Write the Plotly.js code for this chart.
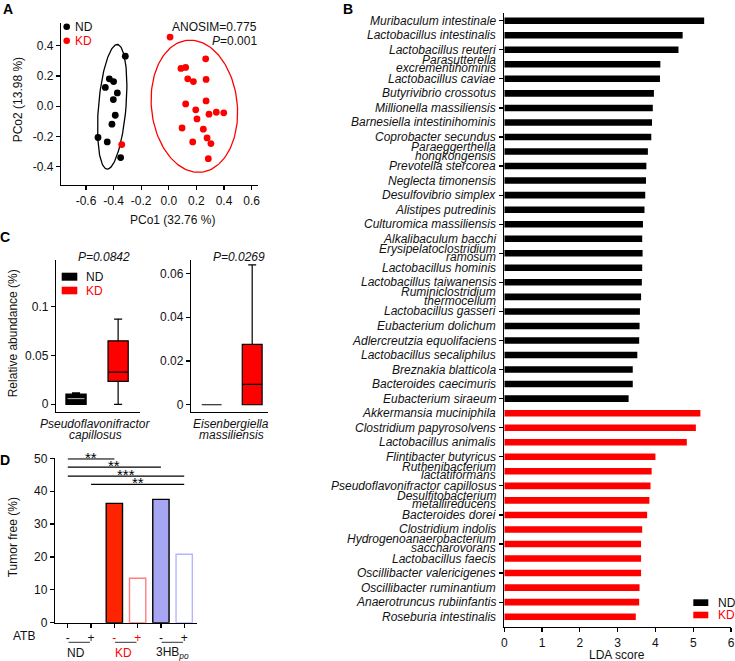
<!DOCTYPE html>
<html><head><meta charset="utf-8">
<script src="https://cdn.plot.ly/plotly-3.0.1.min.js"></script>
<style>html,body{margin:0;padding:0;background:#fff}</style>
</head><body><div id="chart" style="width:735px;height:661px"></div>
<script>
// ---------- Panel A: PCoA ----------
const ndPco1 = [-0.315,-0.431,-0.40,-0.46,-0.373,-0.402,-0.388,-0.412,-0.513,-0.446,-0.349];
const ndPco2 = [0.331,0.181,0.163,0.124,0.088,0.044,-0.06,-0.119,-0.207,-0.236,-0.34];
const kdPco1 = [0.009,0.267,0.088,0.122,0.137,0.178,0.27,0.122,0.27,0.195,0.344,0.398,0.291,0.204,0.096,0.25,0.277,0.173,0.305,0.286,-0.341];
const kdPco2 = [0.457,0.313,0.25,0.256,0.181,0.163,0.177,0.015,0.035,-0.024,-0.04,-0.044,-0.053,-0.084,-0.144,-0.152,-0.21,-0.236,-0.247,-0.347,-0.254];
const ndEllipse = {cx:-0.41, cy:-0.004, rx:0.10, ry:0.412, shear:0.036};
const kdEllipse = {cx:0.185, cy:0.0, rx:0.312, ry:0.437, shear:-0.03};
const pcoXTicks = [-0.6,-0.4,-0.2,0,0.2,0.4,0.6];
const pcoXTickText = ['-0.6','-0.4','-0.2','0.0','0.2','0.4','0.6'];
const pcoYTicks = [-0.4,-0.2,0,0.2,0.4];
const pcoYTickText = ['-0.4','-0.2','0.0','0.2','0.4'];

// ---------- Panel B: LEfSe LDA ----------
const ndSpecies = ["Muribaculum intestinale","Lactobacillus intestinalis","Lactobacillus reuteri","Parasutterella<br>excrementihominis","Lactobacillus caviae","Butyrivibrio crossotus","Millionella massiliensis","Barnesiella intestinihominis","Coprobacter secundus","Paraeggerthella<br>hongkongensis","Prevotella stercorea","Neglecta timonensis","Desulfovibrio simplex","Alistipes putredinis","Culturomica massiliensis","Alkalibaculum bacchi","Erysipelatoclostridium<br>ramosum","Lactobacillus hominis","Lactobacillus taiwanensis","Ruminiclostridium<br>thermocellum","Lactobacillus gasseri","Eubacterium dolichum","Adlercreutzia equolifaciens","Lactobacillus secaliphilus","Breznakia blatticola","Bacteroides caecimuris","Eubacterium siraeum"];
const ndLda = [5.29,4.72,4.61,4.13,4.12,3.96,3.93,3.91,3.89,3.80,3.76,3.75,3.73,3.71,3.67,3.65,3.66,3.65,3.64,3.62,3.59,3.58,3.57,3.52,3.40,3.40,3.29];
const kdSpecies = ["Akkermansia muciniphila","Clostridium papyrosolvens","Lactobacillus animalis","Flintibacter butyricus","Ruthenibacterium<br>lactatiformans","Pseudoflavonifractor capillosus","Desulfitobacterium<br>metallireducens","Bacteroides dorei","Clostridium indolis","Hydrogenoanaerobacterium<br>saccharovorans","Lactobacillus faecis","Oscillibacter valericigenes","Oscillibacter ruminantium","Anaerotruncus rubiinfantis","Roseburia intestinalis"];
const kdLda = [5.19,5.07,4.83,4.00,3.90,3.87,3.84,3.78,3.65,3.62,3.62,3.62,3.58,3.57,3.48];
const ldaTicks = [0,1,2,3,4,5,6];

// ---------- Panel C: boxplots (precomputed stats) ----------
const boxGroups = ['ND','KD'];
const pseudoQ1 = [0, 0.0235], pseudoMed = [0.0058, 0.033], pseudoQ3 = [0.0105, 0.065], pseudoLo = [0, 0], pseudoHi = [0.0117, 0.0873];
const eisenQ1 = [0, 0], eisenMed = [0, 0.0093], eisenQ3 = [0, 0.0276], eisenLo = [0, 0], eisenHi = [0, 0.0639];
const pseudoTicks = [0,0.05,0.1], pseudoTickText = ['0','0.05','0.1'];
const eisenTicks = [0,0.02,0.04,0.06], eisenTickText = ['0','0.02','0.04','0.06'];

// ---------- Panel D: tumor free ----------
const dBars = ['ND-','ND+','KD-','KD+','3HB-','3HB+'];
const tumorFree = [0, 0, 36.3, 13.5, 37.5, 20.8];
const atbText = ['-','+','<span style="color:#ff0000">-</span>','<span style="color:#ff0000">+</span>','-','+'];
const sigStart = [0,0,0,1], sigEnd = [2,4,5,5], sigY = [49.8,47.3,44.6,42.1], sigStars = ['**','**','***','**'];

// ---------- helpers ----------
const W = 735, H = 661;
const px = x => x / W, py = y => 1 - y / H;
const FONT = 'Arial, "Liberation Sans", Helvetica, sans-serif';
const TXT = '#111';
const RED = '#ff0000';
function ax(extra){
  return Object.assign({showgrid:false, zeroline:false, showline:true, linecolor:'#000', linewidth:1.2,
    ticks:'outside', ticklen:4, tickwidth:1.2, tickcolor:'#000', fixedrange:true,
    tickfont:{family:FONT, size:12, color:TXT}}, extra);
}
function ellipse(p){
  const xs=[], ys=[];
  for(let i=0;i<=160;i++){const t=2*Math.PI*i/160; xs.push(p.cx+p.rx*Math.cos(t)+p.shear*Math.sin(t)); ys.push(p.cy+p.ry*Math.sin(t));}
  return {xs, ys};
}
const eN = ellipse(ndEllipse), eK = ellipse(kdEllipse);

const traces = [];
// Panel A
traces.push({type:'scatter', mode:'lines', x:eN.xs, y:eN.ys, line:{color:'#000', width:1.3}, xaxis:'x', yaxis:'y', hoverinfo:'skip'});
traces.push({type:'scatter', mode:'lines', x:eK.xs, y:eK.ys, line:{color:RED, width:1.3}, xaxis:'x', yaxis:'y', hoverinfo:'skip'});
traces.push({type:'scatter', mode:'markers', x:ndPco1, y:ndPco2, marker:{color:'#000', size:6.8}, xaxis:'x', yaxis:'y'});
traces.push({type:'scatter', mode:'markers', x:kdPco1, y:kdPco2, marker:{color:RED, size:6.8}, xaxis:'x', yaxis:'y'});

// Panel B
traces.push({type:'bar', orientation:'h', x:ndLda, y:ndSpecies, marker:{color:'#000'}, width:0.45, xaxis:'x2', yaxis:'y2'});
traces.push({type:'bar', orientation:'h', x:kdLda, y:kdSpecies, marker:{color:RED}, width:0.45, xaxis:'x2', yaxis:'y2'});

// Panel C
const boxColors = ['#000', RED];
const boxW1 = 0.48, boxW2 = 0.49;
boxGroups.forEach((g,i)=>{
  traces.push({type:'box', x:[i], q1:[pseudoQ1[i]], median:[pseudoMed[i]], q3:[pseudoQ3[i]], lowerfence:[pseudoLo[i]], upperfence:[pseudoHi[i]],
    fillcolor:boxColors[i], line:{color:'#000', width:1.2}, width:boxW1, whiskerwidth:0.4, boxpoints:false, xaxis:'x3', yaxis:'y3'});
  traces.push({type:'box', x:[i], q1:[eisenQ1[i]], median:[eisenMed[i]], q3:[eisenQ3[i]], lowerfence:[eisenLo[i]], upperfence:[eisenHi[i]],
    fillcolor:boxColors[i], line:{color:'#000', width:1.2}, width:boxW2, whiskerwidth:0.4, boxpoints:false, xaxis:'x4', yaxis:'y4'});
});

// Panel D
traces.push({type:'bar', x:dBars.map((_,i)=>i), y:tumorFree, width:0.7, xaxis:'x5', yaxis:'y5',
  marker:{color:['#fff','#fff','#ff2400','#fff','#a6a6f2','#fff'],
          line:{color:['#000','#000','#000','#ff7d7d','#000','#b4b4ff'], width:[0,0,1.4,1.4,1.4,1.4]}}});

// ---------- annotations & shapes ----------
const ann = [], shapes = [];
function txt(x,y,text,opt){ann.push(Object.assign({xref:'paper', yref:'paper', x:px(x), y:py(y), text:text, showarrow:false,
  font:{family:FONT, size:12, color:TXT}, xanchor:'center', yanchor:'middle'}, opt||{}));}

// median line of the black ND box (visible light line as in the reference)
shapes.push({type:'line', xref:'x3', yref:'y3', x0:-boxW1/2+0.04, x1:boxW1/2-0.04, y0:pseudoMed[0], y1:pseudoMed[0], line:{color:'#bbb', width:1}});

// panel letters
[['A',7.7],['B',348]].forEach(l=>txt(l[1],0,'<b>'+l[0]+'</b>',{yanchor:'top', borderpad:0, font:{family:FONT,size:14,color:'#000'}}));
[['C',5,237],['D',5,460]].forEach(l=>txt(l[1],l[2],'<b>'+l[0]+'</b>',{font:{family:FONT,size:14,color:'#000'}}));

// A
txt(259,26.7,'ANOSIM=0.775',{xanchor:'right'});
txt(259,40.7,'<i>P</i>=0.001',{xanchor:'right'});
shapes.push({type:'circle', xref:'paper', yref:'paper', x0:px(63.4), x1:px(70), y0:py(30), y1:py(23.4), fillcolor:'#000', line:{width:0}});
shapes.push({type:'circle', xref:'paper', yref:'paper', x0:px(63.4), x1:px(70), y0:py(44), y1:py(37.4), fillcolor:RED, line:{width:0}});
txt(72.5,26.7,'ND',{xanchor:'left'});
txt(72.5,40.7,'KD',{xanchor:'left', font:{family:FONT,size:12,color:RED}});
txt(172,220,'PCo1 (32.76 %)');
txt(18.3,100,'PCo2 (13.98 %)',{textangle:-90});

// B labels
const allSpecies = ndSpecies.concat(kdSpecies);
allSpecies.forEach((s,i)=>{
  const parts = s.split('<br>');
  const base = {xref:'x2', yref:'y2', x:0, y:i, showarrow:false, xanchor:'right', yanchor:'middle', xshift:-6,
    font:{family:FONT, size:12, color:TXT, style:'italic'}};
  if(parts.length===1){ann.push(Object.assign({}, base, {text:parts[0]}));}
  else{
    ann.push(Object.assign({}, base, {text:parts[0], yshift:4.6}));
    ann.push(Object.assign({}, base, {text:parts[1], yshift:-4.0}));
  }
});
txt(617,655,'LDA score');
shapes.push({type:'rect', xref:'paper', yref:'paper', x0:px(693.3), x1:px(708.3), y0:py(606), y1:py(599.3), fillcolor:'#000', line:{width:0}});
shapes.push({type:'rect', xref:'paper', yref:'paper', x0:px(693.3), x1:px(708.3), y0:py(618.3), y1:py(611.7), fillcolor:RED, line:{width:0}});
txt(716,602.7,'ND',{xanchor:'left'});
txt(716,615,'KD',{xanchor:'left', font:{family:FONT,size:12,color:RED}});

// C
txt(104,256.5,'<i>P=0.0842</i>');
txt(239,256.5,'<i>P=0.0269</i>');
shapes.push({type:'rect', xref:'paper', yref:'paper', x0:px(61.7), x1:px(77.3), y0:py(280.7), y1:py(272.7), fillcolor:'#000', line:{width:0}});
shapes.push({type:'rect', xref:'paper', yref:'paper', x0:px(61.7), x1:px(77.3), y0:py(294.3), y1:py(286.7), fillcolor:RED, line:{width:0}});
txt(84,276.7,'ND',{xanchor:'left'});
txt(84,290.7,'KD',{xanchor:'left', font:{family:FONT,size:12,color:RED}});
txt(13.3,333,'Relative abundance (%)',{textangle:-90});
txt(95.3,424,'<i>Pseudoflavonifractor</i>');
txt(95.3,435,'<i>capillosus</i>');
txt(231,424,'<i>Eisenbergiella</i>');
txt(232,435,'<i>massiliensis</i>');

// D
txt(13.3,537,'Tumor free (%)',{textangle:-90});
txt(24,635.7,'ATB');
txt(75.5,653.3,'ND');
txt(123.5,653.3,'KD',{font:{family:FONT,size:12,color:RED}});
txt(172,653.3,'3HB<sub><i>po</i></sub>');
[[0,1],[2,3],[4,5]].forEach(p=>{
  shapes.push({type:'line', xref:'x5', yref:'paper', x0:p[0]+0.03, x1:p[1]-0.05, y0:py(642.3), y1:py(642.3), line:{color:'#333', width:1}});
});
sigStart.forEach((s,i)=>{
  shapes.push({type:'line', xref:'x5', yref:'y5', x0:s, x1:sigEnd[i], y0:sigY[i], y1:sigY[i], line:{color:'#000', width:1.2}});
  ann.push({xref:'x5', yref:'y5', x:(s+sigEnd[i])/2, y:sigY[i], text:sigStars[i], showarrow:false, yanchor:'middle', yshift:1.5,
    font:{family:FONT, size:15, color:'#000'}});
});

const layout = {
  width:W, height:H, margin:{l:0,r:0,t:0,b:0}, paper_bgcolor:'#fff', plot_bgcolor:'rgba(0,0,0,0)',
  showlegend:false, font:{family:FONT, size:12, color:TXT},
  xaxis: ax({domain:[px(61),px(258)], range:[-0.781,0.646], tickvals:pcoXTicks, ticktext:pcoXTickText, anchor:'y'}),
  yaxis: ax({domain:[py(185),py(22.7)], range:[-0.521,0.552], tickvals:pcoYTicks, ticktext:pcoYTickText, anchor:'x'}),
  xaxis2: ax({domain:[px(504.3),px(731)], range:[0,6], tickvals:ldaTicks, anchor:'y2'}),
  yaxis2: ax({domain:[py(627),py(13)], type:'category', categoryorder:'array', categoryarray:allSpecies, range:[41.71,-0.53], showticklabels:false, anchor:'x2'}),
  xaxis3: ax({domain:[px(56),px(140)], range:[-0.476,1.52], ticks:'', showticklabels:false, anchor:'y3'}),
  yaxis3: ax({domain:[py(412),py(260)], range:[-0.0079,0.1478], tickvals:pseudoTicks, ticktext:pseudoTickText, anchor:'x3'}),
  xaxis4: ax({domain:[px(191),px(268)], range:[-0.51,1.39], ticks:'', showticklabels:false, anchor:'y4'}),
  yaxis4: ax({domain:[py(412),py(260)], range:[-0.0033,0.0661], tickvals:eisenTicks, ticktext:eisenTickText, anchor:'x4'}),
  xaxis5: ax({domain:[px(55),px(197)], range:[-0.55,5.55], tickvals:dBars.map((_,i)=>i), ticktext:atbText, anchor:'y5'}),
  yaxis5: ax({domain:[py(622.7),py(458.3)], range:[0,50], dtick:10, anchor:'x5'}),
  annotations: ann, shapes: shapes
};
Plotly.newPlot('chart', traces, layout, {staticPlot:true, displayModeBar:false});
</script></body></html>
